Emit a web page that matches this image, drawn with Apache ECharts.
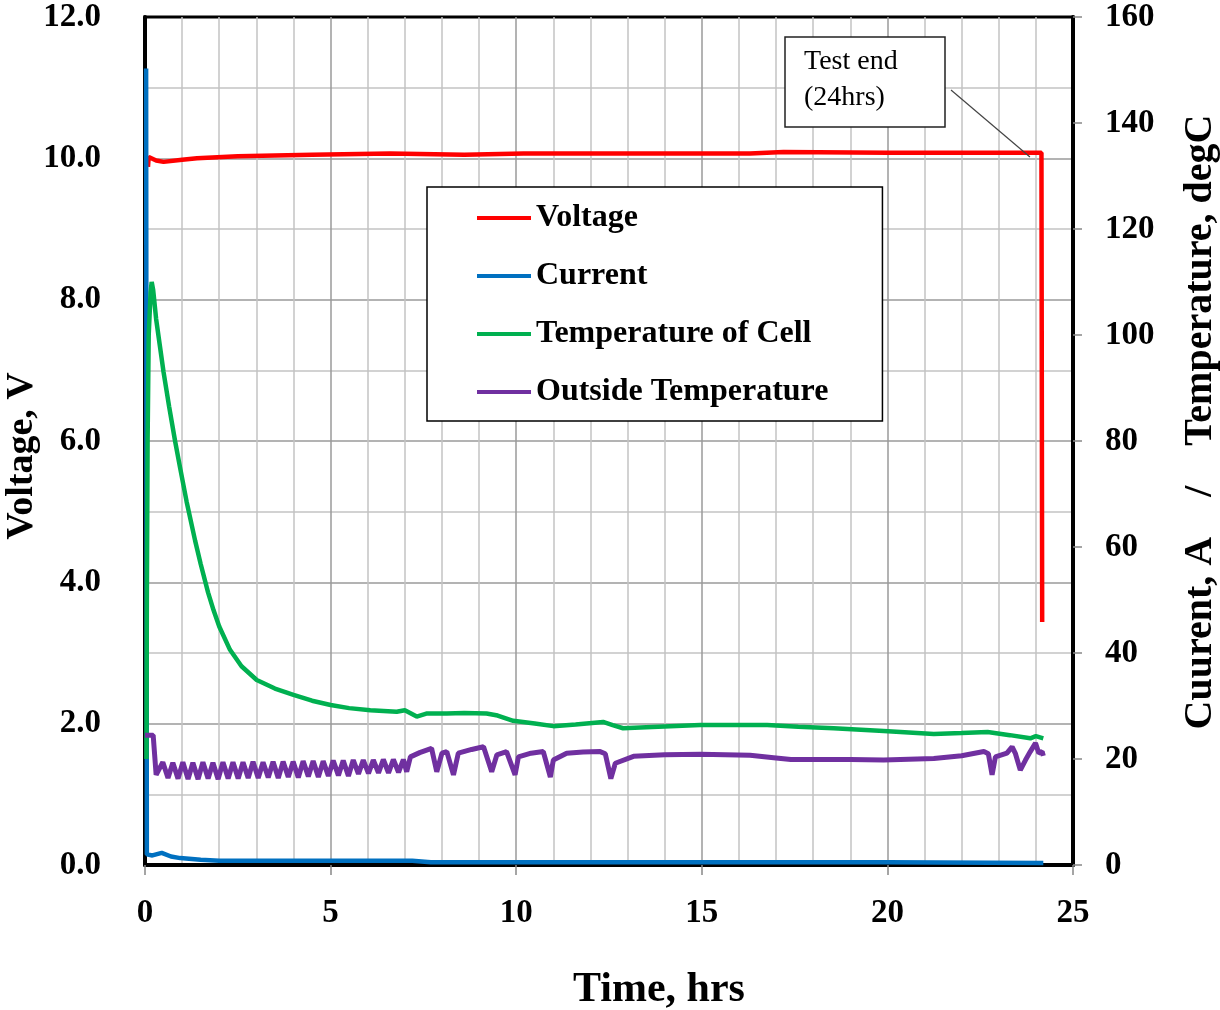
<!DOCTYPE html>
<html>
<head>
<meta charset="utf-8">
<script src="https://cdn.jsdelivr.net/npm/echarts@6/dist/echarts.min.js"></script>
<style>
  html, body { margin: 0; padding: 0; background: #fff; }
  #main { width: 1220px; height: 1010px; }
</style>
</head>
<body>
<div id="main"></div>
<script>
// [time (hrs), value]
const voltage = [[0.08,9.88],[0.1,10.02],[0.3,9.97],[0.5,9.95],[1.0,9.98],[1.4,10.0],[2.5,10.03],[4.5,10.05],
  [6.6,10.07],[8.6,10.05],[10.2,10.07],[13.0,10.07],[16.3,10.07],[17.2,10.09],[20.0,10.08],[24.15,10.08],[24.17,3.44]];
const current = [[0.03,150.3],[0.05,2.0],[0.2,1.8],[0.45,2.3],[0.7,1.6],[0.95,1.3],[1.5,1.0],[2.0,0.8],
  [5.0,0.8],[7.2,0.8],[7.7,0.5],[15.0,0.5],[20.0,0.5],[24.2,0.4]];
const cellTemp = [[0.04,20],[0.05,50],[0.07,80],[0.1,100],[0.15,108],[0.18,110],[0.22,108.5],[0.3,103],[0.4,98],
  [0.5,93],[0.65,86.5],[0.81,80],[0.95,74.8],[1.12,68.6],[1.35,61.2],[1.5,56.8],[1.7,51.4],[1.85,48],[2.0,45],
  [2.29,40.6],[2.6,37.5],[3.01,34.9],[3.5,33.3],[4.0,32.1],[4.5,31],[5.0,30.2],[5.5,29.6],[6.07,29.2],[6.78,28.9],
  [7.0,29.2],[7.32,28.0],[7.6,28.6],[8.13,28.6],[8.6,28.7],[9.2,28.6],[9.5,28.2],[9.92,27.2],[10.5,26.7],
  [11.0,26.2],[11.6,26.5],[12.34,27.0],[12.6,26.4],[12.88,25.8],[13.5,26.0],[14.96,26.4],[16.76,26.4],[17.6,26.1],
  [18.55,25.8],[19.9,25.3],[21.25,24.7],[22.0,24.9],[22.7,25.1],[23.3,24.5],[23.85,23.9],[24.0,24.3],[24.2,23.9]];
const outsideTemp = [[0.0,24.5],[0.22,24.5],[0.3,17.0],
  [0.48,19.4],[0.62,16.4],[0.75,19.3],[0.89,16.3],[1.02,19.4],[1.16,16.2],[1.29,19.3],[1.43,16.2],[1.56,19.4],
  [1.70,16.3],[1.83,19.3],[1.97,16.2],[2.10,19.4],[2.24,16.3],[2.37,19.4],[2.51,16.3],[2.64,19.4],[2.78,16.4],
  [2.91,19.5],[3.05,16.4],[3.18,19.4],[3.32,16.5],[3.45,19.5],[3.59,16.4],[3.72,19.5],[3.86,16.6],[3.99,19.5],
  [4.13,16.5],[4.26,19.6],[4.40,16.7],[4.53,19.6],[4.67,16.6],[4.80,19.6],[4.94,16.8],[5.07,19.7],[5.21,16.9],
  [5.34,19.7],[5.48,16.8],[5.61,19.8],[5.75,17.2],[5.88,19.8],[6.02,17.3],[6.15,19.8],[6.29,17.4],[6.42,19.9],
  [6.56,17.4],[6.69,19.9],[6.83,17.5],[6.96,19.9],[7.05,17.6],
  [7.15,20.4],[7.4,21.2],[7.72,22.0],[7.86,17.6],[8.0,21.1],[8.13,21.4],[8.31,17.0],[8.44,21.1],[8.8,21.8],
  [9.12,22.3],[9.34,17.6],[9.48,20.8],[9.74,21.4],[9.97,17.0],[10.06,20.4],[10.4,21.1],[10.73,21.4],[10.92,16.6],
  [11.0,19.8],[11.36,21.1],[11.8,21.3],[12.26,21.4],[12.4,21.0],[12.55,16.3],[12.67,19.2],[13.16,20.5],[14.0,20.8],
  [14.96,20.9],[16.3,20.7],[17.0,20.2],[17.4,19.9],[19.0,19.9],[19.9,19.8],[21.25,20.1],[22.0,20.6],[22.6,21.4],
  [22.72,21.0],[22.82,17.0],[22.91,20.4],[23.22,21.1],[23.36,22.3],[23.45,21.0],[23.58,17.9],[23.72,19.8],
  [23.85,21.4],[23.99,23.0],[24.08,21.1],[24.17,21.4],[24.2,20.6]];

const xTicks = [0, 5, 10, 15, 20, 25];
const seriesNames = ['Voltage', 'Current', 'Temperature of Cell', 'Outside Temperature'];
const seriesColors = ['#ff0000', '#0070c0', '#00b050', '#7030a0'];
const noteText = 'Test end\n(24hrs)';
const notePoint = [23.84, 10.02];

const serif = 'Liberation Serif';
const tickFont = { fontFamily: serif, fontWeight: 'bold', fontSize: 33, color: '#000' };
const titleFont = { fontFamily: serif, fontWeight: 'bold', fontSize: 38, color: '#000' };

var chart = echarts.init(document.getElementById('main'));

function line(name, data, color, yIndex, width) {
  return {
    name: name,
    type: 'line',
    yAxisIndex: yIndex,
    data: data,
    symbol: 'none',
    animation: false,
    lineStyle: { color: color, width: width },
    itemStyle: { color: color }
  };
}

chart.setOption({
  animation: false,
  grid: {
    left: 145, right: 147, top: 17, bottom: 145,
    outerBoundsMode: 'none', containLabel: false,
    show: true, borderColor: '#000', borderWidth: 3
  },
  legend: {
    orient: 'vertical',
    left: 427, top: 187,
    data: seriesNames,
    icon: 'rect',
    backgroundColor: '#fff',
    borderColor: '#000', borderWidth: 1.5,
    padding: [13, 54, 11, 50],
    itemGap: 22,
    itemWidth: 54, itemHeight: 4,
    textStyle: { fontFamily: serif, fontWeight: 'bold', fontSize: 32, lineHeight: 36, color: '#000' }
  },
  xAxis: {
    type: 'value', min: 0, max: 25, interval: 5,
    name: 'Time, hrs', nameLocation: 'middle', nameGap: 104,
    nameTextStyle: Object.assign({}, titleFont, { fontSize: 42, padding: [0, 0, 0, 100] }),
    axisLine: { lineStyle: { color: '#000', width: 4 } },
    axisTick: { show: true, length: 10, lineStyle: { color: '#888', width: 1.5 } },
    axisLabel: Object.assign({ margin: 32, formatter: v => xTicks.includes(v) ? String(v) : '' }, tickFont),
    splitLine: { show: true, showMaxLine: false, lineStyle: { color: '#9a9a9a', width: 1.5 } },
    minorTick: { show: false, splitNumber: 5 },
    minorSplitLine: { show: true, lineStyle: { color: '#c4c4c4', width: 1.5 } }
  },
  yAxis: [{
    type: 'value', min: 0, max: 12, interval: 2, position: 'left',
    name: 'Voltage, V', nameLocation: 'middle', nameGap: 104, nameRotate: 90, nameMoveOverlap: false,
    nameTextStyle: Object.assign({}, titleFont, { padding: [0, 30, 0, 0] }),
    axisLine: { show: true, lineStyle: { color: '#000', width: 4 } },
    axisTick: { show: false },
    axisLabel: Object.assign({ margin: 44, formatter: v => v.toFixed(1) }, tickFont),
    splitLine: { show: true, showMaxLine: false, lineStyle: { color: '#9a9a9a', width: 1.5 } },
    minorTick: { show: false, splitNumber: 2 },
    minorSplitLine: { show: true, lineStyle: { color: '#c4c4c4', width: 1.5 } }
  }, {
    type: 'value', min: 0, max: 160, interval: 20, position: 'right',
    name: 'Cuurent, A    /    Temperature, degC', nameLocation: 'middle', nameGap: 108, nameRotate: 90,
    nameTextStyle: Object.assign({}, titleFont, { fontSize: 40, padding: [0, 0, 0, 38] }),
    axisLine: { show: true, lineStyle: { color: '#000', width: 4 } },
    axisTick: { show: true, length: 9, lineStyle: { color: '#888', width: 1.5 } },
    axisLabel: Object.assign({ margin: 32 }, tickFont),
    splitLine: { show: false }
  }],
  series: [
    line(seriesNames[0], voltage, seriesColors[0], 0, 4.5),
    line(seriesNames[1], current, seriesColors[1], 1, 4.5),
    line(seriesNames[2], cellTemp, seriesColors[2], 1, 4.5),
    line(seriesNames[3], outsideTemp, seriesColors[3], 1, 5)
  ]
});

// "Test end" callout box with a leader line to the end of the voltage trace
var tip = chart.convertToPixel({ xAxisIndex: 0, yAxisIndex: 0 }, notePoint);
chart.setOption({
  graphic: [
    { type: 'line', z: 100, shape: { x1: 951, y1: 90, x2: tip[0], y2: tip[1] },
      style: { stroke: '#444', lineWidth: 1.2 } },
    { type: 'rect', z: 100, shape: { x: 785, y: 37, width: 160, height: 90 },
      style: { fill: '#fff', stroke: '#222', lineWidth: 1.5 } },
    { type: 'text', z: 101, left: 804, top: 44,
      style: { text: noteText, font: '28px "Liberation Serif"', fill: '#000', lineHeight: 36 } }
  ]
});
</script>
</body>
</html>
